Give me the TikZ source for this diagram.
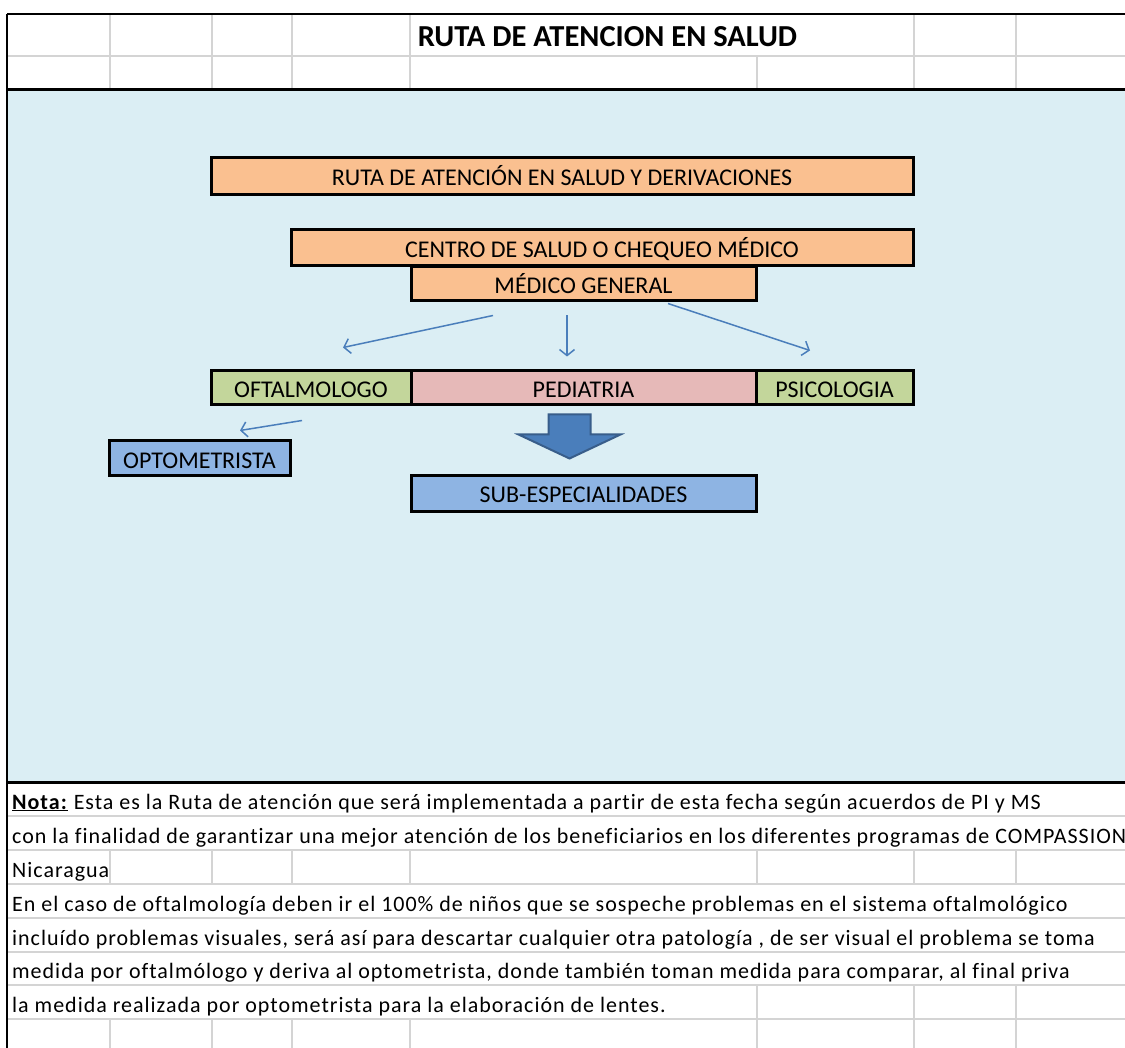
\documentclass[tikz,border=0pt]{standalone}
\usepackage{fontspec}
\setmainfont{Carlito}
\newfontfamily\notafont[LetterSpace=4.5,Ligatures=NoCommon]{Carlito}
\usetikzlibrary{arrows.meta,calc}
\definecolor{fondo}{RGB}{219,238,244}
\definecolor{naranja}{RGB}{250,192,144}
\definecolor{verde}{RGB}{195,214,155}
\definecolor{rosa}{RGB}{230,185,184}
\definecolor{azulcaja}{RGB}{142,180,227}
\definecolor{azulflecha}{RGB}{74,126,187}
\definecolor{azulborde}{RGB}{56,93,138}
\definecolor{gris}{RGB}{212,212,212}

\begin{document}
\begin{tikzpicture}[x=1pt, y=-1pt, >={Straight Barb[length=6pt,width=15pt]},
  caja/.style={draw=black, line width=3pt, inner sep=0pt, text height=19pt, text depth=0pt,
    font=\fontsize{24}{27}\selectfont},
  flecha/.style={->, draw=azulflecha, line width=1.5pt},
  nota/.style={anchor=base west, inner sep=0pt, font=\notafont\fontsize{22}{24}\selectfont},
  rejilla/.style={draw=gris, line width=1.3pt}]
\useasboundingbox (0,0) rectangle (1125,1048);
\fill[white] (0,0) rectangle (1125,1048);
\fill[fondo] (7,90) rectangle (1125,782);
\draw[rejilla] (7,56) -- (1125,56);
\foreach \x in {110,212,292,410,914,1016}{
  \draw[rejilla] (\x,14) -- (\x,56);
}
\foreach \x in {110,212,292,410,757,914,1016}{
  \draw[rejilla] (\x,56) -- (\x,90);
  \draw[rejilla] (\x,850) -- (\x,884);
  \draw[rejilla] (\x,1019) -- (\x,1048);
}
\foreach \x in {757,914,1016}{
  \draw[rejilla] (\x,985) -- (\x,1019);
}
\foreach \y in {816,850,884,918,952,985,1019}{
  \draw[rejilla] (7,\y) -- (1125,\y);
}
\draw[line width=2.5pt] (7,14) -- (1125,14);
\draw[line width=3pt] (7,90) -- (1125,90);
\draw[line width=3pt] (7,782) -- (1125,782);
\draw[line width=1.5pt] (7,14) -- (7,1048);
\node[inner sep=0pt, font=\bfseries\fontsize{30.5}{33}\selectfont] (titulo) at (607.5,37) {RUTA DE ATENCION EN SALUD};
\foreach \n/\xa/\xb/\ya/\yb/\col/\txt in {
    ruta/211/913/158/195/naranja/{RUTA DE ATENCIÓN EN SALUD Y DERIVACIONES},
    centro/291/913/230/266/naranja/{CENTRO DE SALUD O CHEQUEO MÉDICO},
    medico/411/756/267/301/naranja/{MÉDICO GENERAL},
    oftal/211/411/371/405/verde/{OFTALMOLOGO},
    psico/756/913/371/405/verde/{PSICOLOGIA},
    pedia/411/756/371/405/rosa/{PEDIATRIA},
    opto/109/290/441/476/azulcaja/{OPTOMETRISTA},
    sub/411/756/476/511/azulcaja/{SUB-ESPECIALIDADES}}{
  \pgfmathsetmacro\w{\xb-\xa}
  \pgfmathsetmacro\h{\yb-\ya}
  \node[caja, fill=\col, minimum width=\w pt, minimum height=\h pt] (\n) at ({(\xa+\xb)/2},{(\ya+\yb)/2}) {\txt};
}
\coordinate (m1) at ($(medico.south)+(-90.5,13)$);
\coordinate (m2) at ($(medico.south)+(-16.5,13)$);
\coordinate (m3) at ($(medico.south)+(84.5,1)$);
\coordinate (o1) at ($(oftal.north)+(32,-22)$);
\coordinate (p1) at ($(pedia.north)+(-16.5,-13)$);
\coordinate (s1) at ($(psico.north)+(-24.5,-19)$);
\coordinate (o2) at ($(oftal.south)+(-9,14)$);
\coordinate (t1) at ($(opto.north)+(40.5,-9)$);
\draw[flecha] (m1) -- (o1);
\draw[flecha] (m2) -- (p1);
\draw[flecha] (m3) -- (s1);
\draw[flecha] (o2) -- (t1);
\coordinate (bq) at ($(pedia.south)+(-14,8)$);
\draw[fill=azulflecha, draw=azulborde, line width=2pt, line join=miter]
  (bq) ++(-21,0) -- ++(42,0) -- ++(0,20) -- ++(30,0) -- ++(-51,24) -- ++(-51,-24) -- ++(30,0) -- cycle;
\begin{scope}
\clip (0,0) rectangle (1125,1048);
\foreach \y/\txt in {
    809/{\underline{\textbf{Nota:}} Esta es la Ruta de atención que será implementada a partir de esta fecha según acuerdos de PI y MS},
    843/{con la finalidad de garantizar una mejor atención de los beneficiarios en los diferentes programas de COMPASSION},
    877/{Nicaragua},
    911/{En el caso de oftalmología deben ir el 100\% de niños que se sospeche problemas en el sistema oftalmológico},
    945/{incluído problemas visuales, será así para descartar cualquier otra patología , de ser visual el problema se toma},
    978/{medida por oftalmólogo y deriva al optometrista, donde también toman medida para comparar, al final priva},
    1012/{la medida realizada por optometrista para la elaboración de lentes.}}{
  \node[nota] at (12,\y) {\txt};
}
\end{scope}
\end{tikzpicture}
\end{document}
